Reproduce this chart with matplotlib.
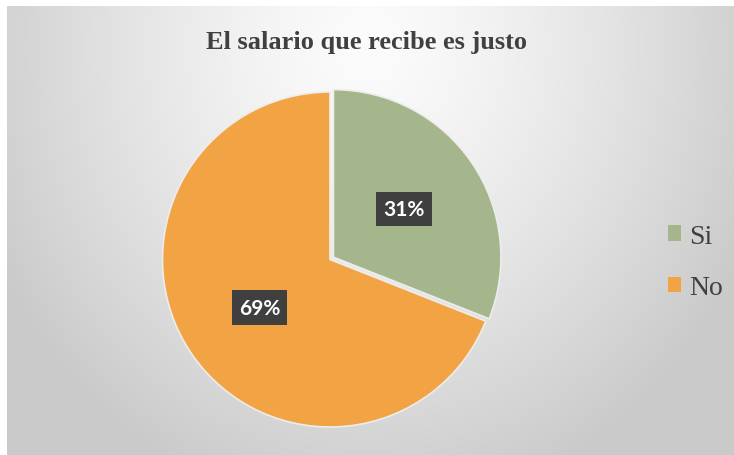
import numpy as np
import matplotlib.pyplot as plt

# datos
categorias = ['Si', 'No']
porcentajes = [31, 69]
colores = ['#A6B68C', '#F2A444']
titulo = 'El salario que recibe es justo'

W, H = 734, 456
fig = plt.figure(figsize=(W / 100, H / 100), dpi=100)
fig.patch.set_facecolor('white')

# fondo con degradado radial (gris en bordes, blanco arriba al centro)
bg = fig.add_axes([7 / W, 0, (W - 7) / W, (H - 7) / H])
yy, xx = np.mgrid[0:H - 7, 0:W - 7]
r = np.sqrt(((xx - 360) / 420.0) ** 2 + ((yy - 40) / 470.0) ** 2)
g = 252 - 50 * np.clip(r, 0, 1) ** 1.3
img = np.dstack([g, g, g]) / 255.0
bg.imshow(img, aspect='auto', interpolation='bilinear')
bg.axis('off')

# pie: radio 167.5 px, centro (330, 260.5) en pixeles de imagen
R = 167.5
cx, cy = 330, H - 260.5
lim = 1.2
size = 2 * lim * R
ax = fig.add_axes([(cx - size / 2) / W, (cy - size / 2) / H, size / W, size / H])
wedges, texts, autotexts = ax.pie(
    porcentajes, colors=colores, startangle=90, counterclock=False,
    explode=[0.025, 0], autopct='%1.0f%%', pctdistance=0.51,
    wedgeprops=dict(edgecolor='#EDEDED', linewidth=1.2),
    textprops=dict(color='white', fontsize=15, fontweight='bold', family='Lato'))
for t in autotexts:
    t.set_bbox(dict(boxstyle='square,pad=0.34', fc='#3F3F3F', ec='none'))
ax.set_xlim(-lim, lim)
ax.set_ylim(-lim, lim)
ax.axis('off')

fig.text(367 / W, 1 - 42 / H, titulo, ha='center', va='center',
         fontsize=19, fontweight='bold', family='Liberation Serif', color='#404040')

leg = fig.legend(wedges, categorias, loc='center left', bbox_to_anchor=(668 / W, 1 - 263 / H),
                 frameon=False, prop=dict(family='Liberation Serif', size=20),
                 borderpad=0, borderaxespad=0,
                 handlelength=0.47, handleheight=0.47, handletextpad=0.3, labelspacing=0.95)
for h in leg.legend_handles:
    h.set_edgecolor('none')
for t in leg.get_texts():
    t.set_color('#404040')

fig.savefig('out.png', dpi=100)
